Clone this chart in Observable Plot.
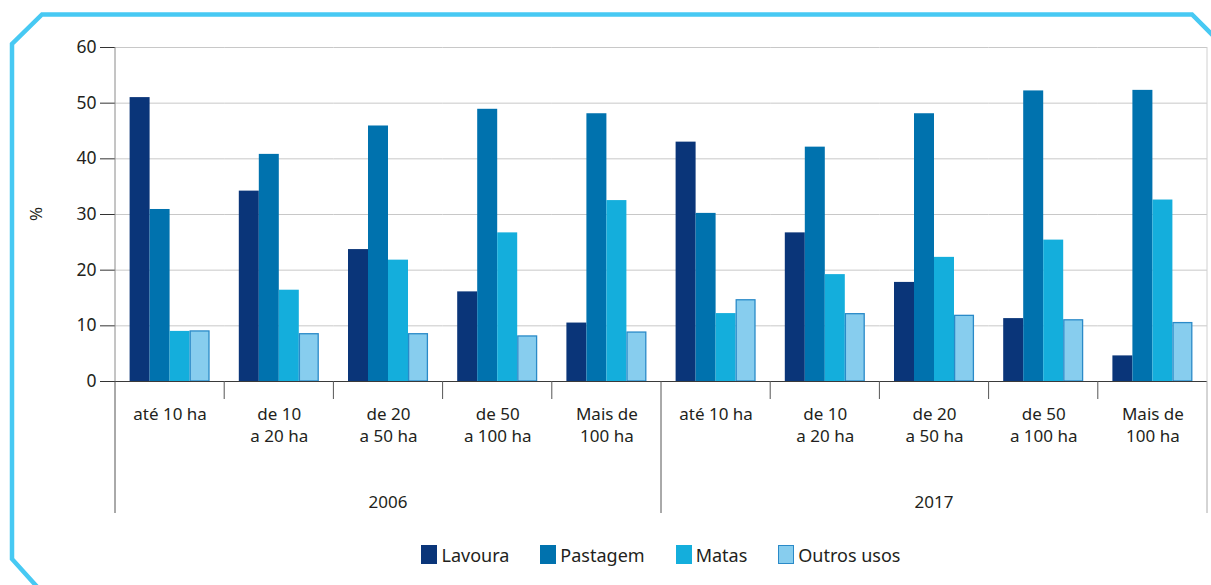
<!DOCTYPE html>
<html>
<head>
<meta charset="utf-8">
<script src="https://cdn.jsdelivr.net/npm/d3@7"></script>
<script src="https://cdn.jsdelivr.net/npm/@observablehq/plot@0.6"></script>
<style>
  html, body { margin: 0; padding: 0; background: #fff; }
  body { width: 1211px; height: 585px; overflow: hidden; position: relative; font-family: "Noto Sans", sans-serif; color: #231f20; }
  #border { position: absolute; left: 0; top: 0; pointer-events: none; }
  #chart { position: absolute; left: 0; top: 0; }
  #legend { position: absolute; left: 115px; width: 1092px; top: 545px; display: flex; justify-content: center; gap: 31px; font-size: 18px; line-height: 20px; }
  .item { display: flex; align-items: flex-start; gap: 4px; }
  .sw { width: 16px; height: 19px; box-sizing: border-box; }
</style>
</head>
<body>
<svg id="border" width="1211" height="585"></svg>
<div id="chart"></div>
<div id="legend"></div>
<script>
const years = ["2006", "2017"];
const classes = ["até 10 ha", "de 10\na 20 ha", "de 20\na 50 ha", "de 50\na 100 ha", "Mais de\n100 ha"];
const series = ["Lavoura", "Pastagem", "Matas", "Outros usos"];
const colors = ["#0a3579", "#0072ae", "#14aedc", "#87cdee"];
const lavoura  = [51.0, 34.2, 23.7, 16.1, 10.5, 43.0, 26.7, 17.8, 11.3, 4.6];
const pastagem = [30.9, 40.8, 45.9, 48.9, 48.1, 30.2, 42.1, 48.1, 52.2, 52.3];
const matas    = [9.0, 16.4, 21.8, 26.7, 32.5, 12.2, 19.2, 22.3, 25.4, 32.6];
const outros   = [9.1, 8.6, 8.6, 8.2, 8.9, 14.7, 12.2, 11.9, 11.1, 10.6];
const yTicks = [0, 10, 20, 30, 40, 50, 60];
const yLabel = "%";

const valuesBySeries = [lavoura, pastagem, matas, outros];
const groups = [];
years.forEach(yr => classes.forEach(c => groups.push({key: yr + " " + c, year: yr, label: c})));
const keys = groups.map(g => g.key);
const rows = [];
groups.forEach((g, i) => series.forEach((s, j) => rows.push({key: g.key, series: s, value: valuesBySeries[j][i]})));

const chart = Plot.plot({
  width: 1211,
  height: 525,
  marginTop: 47,
  marginLeft: 115,
  marginRight: 4,
  marginBottom: 144,
  style: {fontFamily: "Noto Sans, sans-serif", fontSize: "17px", color: "#231f20", background: "transparent", overflow: "visible"},
  fx: {domain: keys, padding: 0, axis: null, round: false},
  x: {domain: series, paddingInner: 0, paddingOuter: 0.73, axis: null, round: false},
  y: {domain: [0, 60], axis: null},
  color: {domain: series, range: colors},
  marks: [
    Plot.gridY(yTicks, {stroke: "#c8c8c8", strokeOpacity: 1}),
    Plot.axisY(yTicks, {tickSize: 15, tickPadding: 4, fontSize: 17.5, label: null, tickFormat: d => String(d), stroke: "#333", fill: "#231f20"}),
    Plot.barY(rows.filter(d => d.series !== "Outros usos"), {fx: "key", x: "series", y: "value", fill: "series"}),
    Plot.barY(rows.filter(d => d.series === "Outros usos"), {fx: "key", x: "series", y: "value", fill: "series", stroke: "#2a8ac8", strokeWidth: 1.3, insetLeft: 0.6, insetRight: 0.6, insetTop: 0.6}),
    Plot.ruleY([0], {stroke: "#3a3a3a", strokeWidth: 1.2}),
    Plot.text(groups, {fx: "key", text: "label", frameAnchor: "bottom", lineAnchor: "top", dy: 23, lineHeight: 1.3, fontSize: 17, fill: "#231f20"})
  ]
});
document.getElementById("chart").appendChild(chart);

// axis furniture drawn from Plot's scales
const fx = chart.scale("fx"), y = chart.scale("y");
const svg = d3.select(chart);
const left = fx.apply(keys[0]);
const bw = fx.bandwidth;
const right = fx.apply(keys[keys.length - 1]) + bw;
const y0 = y.apply(0), yTop = y.apply(60);
const g = svg.append("g");
g.append("line").attr("x1", left).attr("x2", left).attr("y1", yTop).attr("y2", y0).attr("stroke", "#8a8a8a");
g.append("line").attr("x1", right).attr("x2", right).attr("y1", yTop).attr("y2", y0).attr("stroke", "#d0d0d0");
keys.forEach((k, i) => {
  if (i % 5 !== 0) {
    const xx = fx.apply(k);
    g.append("line").attr("x1", xx).attr("x2", xx).attr("y1", y0).attr("y2", y0 + 18).attr("stroke", "#555");
  }
});
[left, fx.apply(keys[5]), right].forEach((xx, i) => {
  g.append("line").attr("x1", xx).attr("x2", xx).attr("y1", y0).attr("y2", y0 + 132).attr("stroke", i === 2 ? "#aaa" : "#555");
});
years.forEach((yr, i) => {
  const a = fx.apply(keys[i * 5]), b = fx.apply(keys[i * 5 + 4]) + bw;
  g.append("text").attr("x", (a + b) / 2).attr("y", y0 + 127).attr("text-anchor", "middle")
    .attr("font-size", 17).attr("fill", "#231f20").text(yr);
});
g.append("text").attr("transform", `translate(42,${(y0 + yTop) / 2}) rotate(-90)`).attr("text-anchor", "middle")
  .attr("font-size", 17).attr("fill", "#231f20").text(yLabel);

const legend = d3.select("#legend");
series.forEach((s, i) => {
  const it = legend.append("div").attr("class", "item");
  it.append("div").attr("class", "sw").style("background", colors[i])
    .style("border", s === "Outros usos" ? "1.5px solid #2a8ac8" : "none");
  it.append("span").text(s);
});

d3.select("#border").append("path")
  .attr("d", "M40,590 L12,559 L12,44 L42,14.5 L1192,14.5 L1222,44.5 L1222,600")
  .attr("fill", "none").attr("stroke", "#47c9f3").attr("stroke-width", 4.5);
</script>
</body>
</html>
